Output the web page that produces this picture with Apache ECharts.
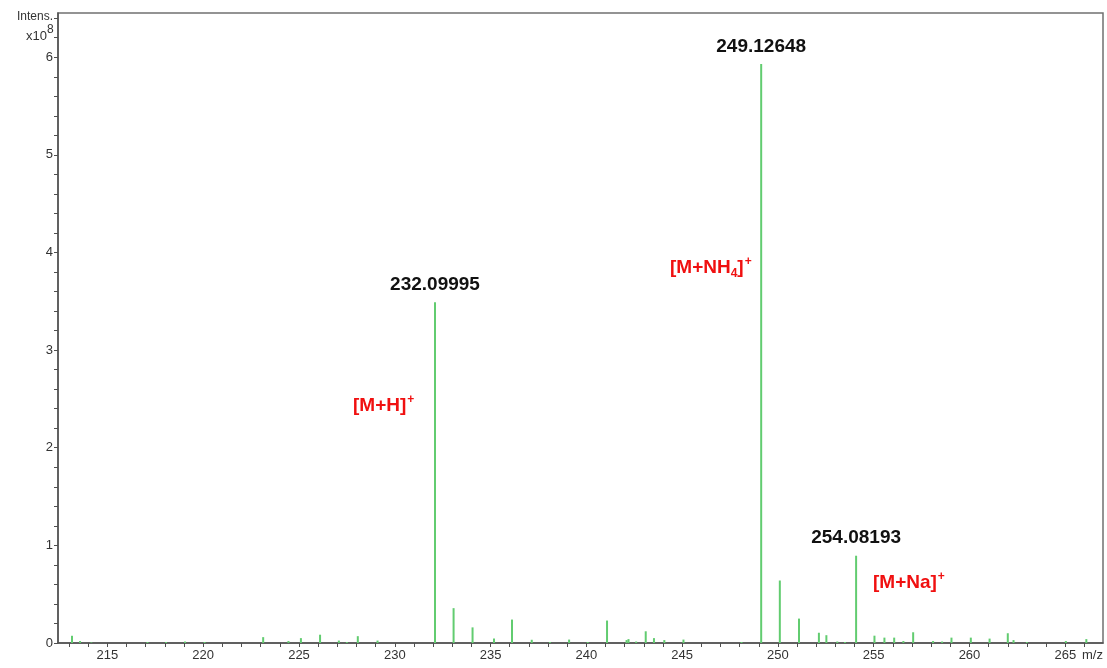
<!DOCTYPE html>
<html>
<head>
<meta charset="utf-8">
<script src="https://cdn.jsdelivr.net/npm/echarts@6/dist/echarts.min.js"></script>
<style>
  html, body { margin: 0; padding: 0; background: #fff; }
  #chart { width: 1107px; height: 668px; }
</style>
</head>
<body>
<div id="chart"></div>
<script>
// Mass spectrum: peak m/z positions and intensities (x10^8)
const peakMz = [
  213.15, 213.57, 214.16, 217.09, 218.06, 219.05, 220.07, 223.13, 224.45, 225.10,
  226.10, 227.08, 227.50, 228.07, 229.10, 232.09995, 233.07, 234.06, 235.18, 236.12,
  237.15, 238.10, 239.10, 240.07, 241.08, 242.10, 242.20, 242.60, 243.10, 243.53,
  244.07, 245.07, 248.10, 249.12648, 250.10, 251.10, 252.14, 252.53, 253.10, 253.50,
  254.08193, 255.04, 255.56, 256.07, 256.55, 257.06, 258.10, 258.57, 259.06, 260.07,
  261.05, 262.00, 262.30, 263.00, 265.03, 266.10
];
const peakIntensity = [
  0.074, 0.020, 0.006, 0.010, 0.010, 0.015, 0.010, 0.060, 0.020, 0.050,
  0.085, 0.025, 0.010, 0.070, 0.025, 3.49, 0.357, 0.160, 0.046, 0.240,
  0.033, 0.010, 0.035, 0.010, 0.230, 0.030, 0.040, 0.015, 0.120, 0.050,
  0.030, 0.035, 0.010, 5.93, 0.640, 0.250, 0.105, 0.080, 0.015, 0.010,
  0.894, 0.075, 0.055, 0.055, 0.020, 0.110, 0.020, 0.015, 0.055, 0.055,
  0.045, 0.100, 0.030, 0.010, 0.020, 0.040
];
// Peaks annotated with their exact m/z
const labelledMz = [232.09995, 249.12648, 254.08193];

// Axis tick labels
const xTickLabels = [215, 220, 225, 230, 235, 240, 245, 250, 255, 260, 265];
const yTickLabels = [0, 1, 2, 3, 4, 5, 6];

// Minor tick positions: every integer m/z, every 0.2 in intensity
const xTicks = [];
for (let v = 213; v <= 266; v++) xTicks.push(v);
const yTicks = [];
for (let i = 0; i <= 32; i++) yTicks.push(+(i * 0.2).toFixed(1));

const data = peakMz.map((mz, i) => {
  const item = { value: [mz, peakIntensity[i]] };
  if (labelledMz.includes(mz)) item.label = { show: true };
  return item;
});

const axisColor = '#505050';
const labelFont = 'Arial, "Liberation Sans", sans-serif';
const red = '#f01010';

function ionRich(size) {
  return {
    b: { fontSize: size, fontWeight: 'bold', fill: red, fontFamily: labelFont, lineHeight: 24 },
    sup: { fontSize: 12, fontWeight: 'bold', fill: red, fontFamily: labelFont, verticalAlign: 'top', lineHeight: 24, padding: [0, 0, 0, 1] },
    sub: { fontSize: 12, fontWeight: 'bold', fill: red, fontFamily: labelFont, verticalAlign: 'bottom', lineHeight: 20 }
  };
}

const chart = echarts.init(document.getElementById('chart'), null, { renderer: 'canvas' });
chart.setOption({
  animation: false,
  backgroundColor: '#ffffff',
  grid: {
    left: 58, right: 4, top: 13, bottom: 25,
    show: true, borderColor: '#707070', borderWidth: 1.5, backgroundColor: 'transparent'
  },
  xAxis: {
    type: 'value',
    min: 212.42, max: 266.97,
    axisLine: { show: true, lineStyle: { color: axisColor, width: 1.5 } },
    axisTick: { show: true, inside: false, length: 4, customValues: xTicks, lineStyle: { color: axisColor, width: 1 } },
    axisLabel: {
      customValues: xTickLabels, color: '#333', fontSize: 13, fontFamily: labelFont, margin: 6
    },
    splitLine: { show: false }
  },
  yAxis: {
    type: 'value',
    min: 0, max: 6.453,
    axisLine: { show: true, lineStyle: { color: axisColor, width: 1.5 } },
    axisTick: { show: true, inside: false, length: 4, customValues: yTicks, lineStyle: { color: axisColor, width: 1 } },
    axisLabel: {
      customValues: yTickLabels, color: '#333', fontSize: 13, fontFamily: labelFont, margin: 5
    },
    splitLine: { show: false }
  },
  series: [{
    type: 'bar',
    data: data,
    barWidth: 2,
    itemStyle: { color: '#62cc70' },
    label: {
      show: false,
      position: 'top',
      distance: 8,
      color: '#111',
      fontSize: 19,
      fontWeight: 'bold',
      fontFamily: labelFont,
      formatter: p => p.value[0].toFixed(5)
    }
  }],
  graphic: [
    {
      type: 'text', x: 53, y: 17,
      style: { text: 'Intens.', fill: '#333', font: '12px ' + labelFont, align: 'right', verticalAlign: 'middle' }
    },
    {
      type: 'text', x: 47, y: 36,
      style: { text: 'x10', fill: '#333', font: '13px ' + labelFont, align: 'right', verticalAlign: 'middle' }
    },
    {
      type: 'text', x: 47, y: 30,
      style: { text: '8', fill: '#333', font: '12px ' + labelFont, align: 'left', verticalAlign: 'middle' }
    },
    {
      type: 'text', x: 1082, y: 655,
      style: { text: 'm/z', fill: '#333', font: '13px ' + labelFont, align: 'left', verticalAlign: 'middle' }
    },
    {
      type: 'text', left: 353, top: 394,
      style: { text: '{b|[M+H]}{sup|+}', rich: ionRich(19) }
    },
    {
      type: 'text', left: 670, top: 256,
      style: { text: '{b|[M+NH}{sub|4}{b|]}{sup|+}', rich: ionRich(19) }
    },
    {
      type: 'text', left: 873, top: 571,
      style: { text: '{b|[M+Na]}{sup|+}', rich: ionRich(19) }
    }
  ]
});
</script>
</body>
</html>
